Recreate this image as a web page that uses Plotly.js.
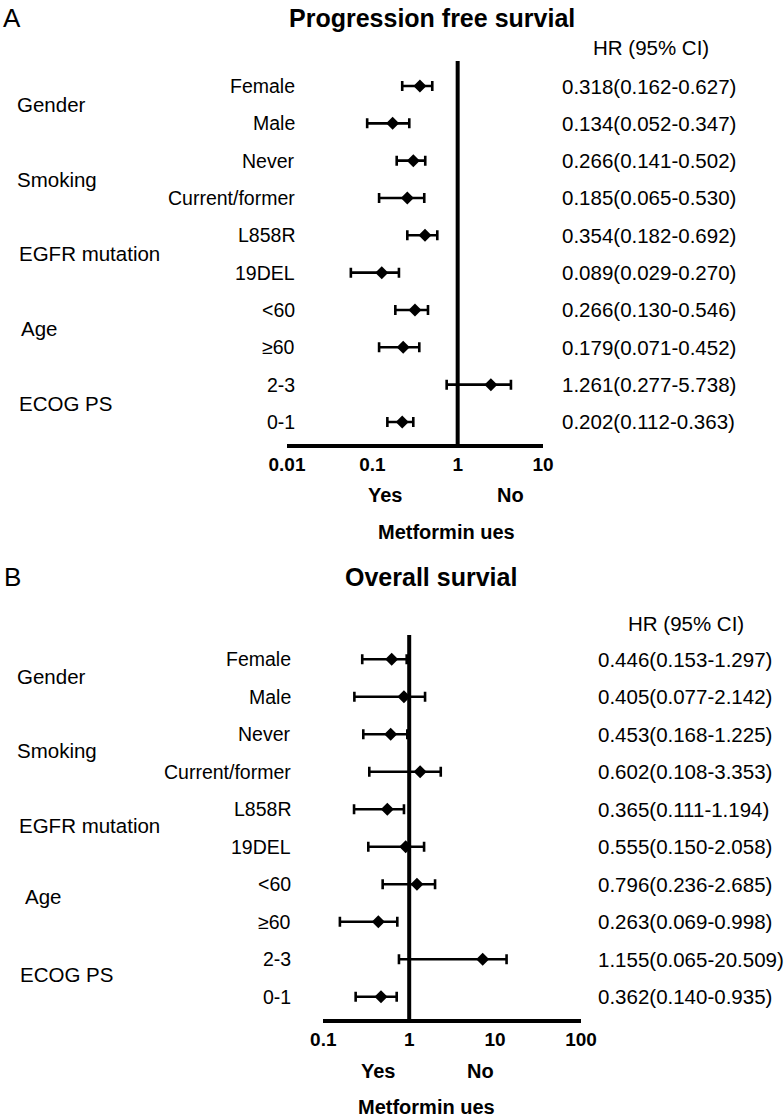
<!DOCTYPE html>
<html><head><meta charset="utf-8">
<script src="https://cdn.plot.ly/plotly-3.0.1.min.js"></script>
<style>html,body{margin:0;padding:0;background:#fff}</style>
</head><body><div id="chart" style="width:784px;height:1120px"></div>
<script>
// ---------- data ----------
const subgroups = ["Female","Male","Never","Current/former","L858R","19DEL","<60","≥60","2-3","0-1"];
const groups = ["Gender","Smoking","EGFR mutation","Age","ECOG PS"];

// Progression free survival (positions as drawn)
const pfsHR   = [0.361,0.173,0.302,0.257,0.414,0.129,0.316,0.230,2.45,0.224];
const pfsLow  = [0.224,0.087,0.193,0.120,0.257,0.056,0.186,0.120,0.743,0.150];
const pfsHigh = [0.504,0.271,0.417,0.406,0.577,0.205,0.449,0.355,4.21,0.302];
const pfsText = ["0.318(0.162-0.627)","0.134(0.052-0.347)","0.266(0.141-0.502)","0.185(0.065-0.530)",
  "0.354(0.182-0.692)","0.089(0.029-0.270)","0.266(0.130-0.546)","0.179(0.071-0.452)",
  "1.261(0.277-5.738)","0.202(0.112-0.363)"];

// Overall survival (positions as drawn)
const osHR   = [0.625,0.869,0.609,1.34,0.556,0.910,1.23,0.437,7.17,0.470];
const osLow  = [0.284,0.230,0.292,0.343,0.228,0.334,0.491,0.156,0.760,0.238];
const osHigh = [0.935,1.53,0.951,2.33,0.869,1.49,2.00,0.727,13.6,0.715];
const osText = ["0.446(0.153-1.297)","0.405(0.077-2.142)","0.453(0.168-1.225)","0.602(0.108-3.353)",
  "0.365(0.111-1.194)","0.555(0.150-2.058)","0.796(0.236-2.685)","0.263(0.069-0.998)",
  "1.155(0.065-20.509)","0.362(0.140-0.935)"];

const pfsTicks = [0.01,0.1,1,10];
const osTicks = [0.1,1,10,100];

// ---------- layout helpers ----------
const W = 784, H = 1120;
const FONT = "Liberation Sans, Arial, Helvetica, sans-serif";
const esc = s => s.replace(/</g,"&lt;").replace(/>/g,"&gt;");
const px = x => x / W;
const py = y => 1 - y / H;
const rows = subgroups.map((_, i) => i);

function forestTrace(hr, lo, hi, xa, ya) {
  return {
    type: "scatter", mode: "markers", x: hr, y: rows, xaxis: xa, yaxis: ya,
    marker: {symbol: "diamond", size: 10, color: "#000"},
    error_x: {type: "data", symmetric: false,
      array: hi.map((v, i) => v - hr[i]),
      arrayminus: lo.map((v, i) => hr[i] - v),
      thickness: 2.6, width: 5, color: "#000"},
    hoverinfo: "skip", showlegend: false
  };
}

const P = {
  A: {labelRight: 297, groupX: [15,15,17,19,17], groupY: [0.5,2.5,4.5,6.5,8.5],
      hrX: 560, hdr: [651, 48], title: [432, 18], letter: [12, 18], yes: [385, 495], no: [510, 495], met: [446, 532]},
  B: {labelRight: 293, groupX: [15,15,17,23,18], groupY: [0.46,2.42,4.42,6.33,8.42],
      hrX: 596, hdr: [686, 623], title: [431, 577], letter: [12, 577], yes: [378, 1071], no: [481, 1071], met: [427, 1107]}
};

const ann = [];
function addPanel(cfg, ya, titleText, letter, texts) {
  const yref = ya;
  subgroups.forEach((s, i) => ann.push({xref: "paper", yref, x: px(cfg.labelRight), y: i, xanchor: "right", yanchor: "middle",
    text: esc(s), showarrow: false, font: {family: FONT, size: 19.5, color: "#000"}}));
  groups.forEach((g, k) => ann.push({xref: "paper", yref, x: px(cfg.groupX[k]), y: cfg.groupY[k], xanchor: "left", yanchor: "middle",
    text: esc(g), showarrow: false, font: {family: FONT, size: 20.5, color: "#000"}}));
  texts.forEach((t, i) => ann.push({xref: "paper", yref, x: px(cfg.hrX), y: i, xanchor: "left", yanchor: "middle",
    text: t, showarrow: false, font: {family: FONT, size: 20.5, color: "#000"}}));
  ann.push({xref: "paper", yref: "paper", x: px(cfg.hdr[0]), y: py(cfg.hdr[1]), xanchor: "center", yanchor: "middle",
    text: "HR (95% CI)", showarrow: false, font: {family: FONT, size: 20.5, color: "#000"}});
  ann.push({xref: "paper", yref: "paper", x: px(cfg.title[0]), y: py(cfg.title[1]), xanchor: "center", yanchor: "middle",
    text: "<b>" + titleText + "</b>", showarrow: false, font: {family: FONT, size: 25, color: "#000"}});
  ann.push({xref: "paper", yref: "paper", x: px(cfg.letter[0]), y: py(cfg.letter[1]), xanchor: "center", yanchor: "middle",
    text: letter, showarrow: false, font: {family: FONT, size: 26, color: "#000"}});
  ann.push({xref: "paper", yref: "paper", x: px(cfg.yes[0]), y: py(cfg.yes[1]), xanchor: "center", yanchor: "middle",
    text: "<b>Yes</b>", showarrow: false, font: {family: FONT, size: 20, color: "#000"}});
  ann.push({xref: "paper", yref: "paper", x: px(cfg.no[0]), y: py(cfg.no[1]), xanchor: "center", yanchor: "middle",
    text: "<b>No</b>", showarrow: false, font: {family: FONT, size: 20, color: "#000"}});
  ann.push({xref: "paper", yref: "paper", x: px(cfg.met[0]), y: py(cfg.met[1]), xanchor: "center", yanchor: "middle",
    text: "<b>Metformin ues</b>", showarrow: false, font: {family: FONT, size: 20, color: "#000"}});
}
addPanel(P.A, "y", "Progression free survial", "A", pfsText);
addPanel(P.B, "y2", "Overall survial", "B", osText);

function xAxis(range, dom, anchor, ticks) {
  return {type: "log", range, domain: dom, anchor, showline: true, linewidth: 4, linecolor: "#000",
    showgrid: false, zeroline: false, ticks: "", tickvals: ticks, ticktext: ticks.map(String),
    tickfont: {family: FONT, size: 19, color: "#000", weight: "bold"}, fixedrange: true};
}
function yAxis(range, dom) {
  return {range, domain: dom, visible: false, showgrid: false, zeroline: false, fixedrange: true};
}

const layout = {
  width: W, height: H, margin: {l: 0, r: 0, t: 0, b: 0},
  paper_bgcolor: "#fff", plot_bgcolor: "rgba(0,0,0,0)",
  xaxis: xAxis([-2, 1], [287/W, 543/W], "y", pfsTicks),
  yaxis: yAxis([(444-86)/37.33, (61-86)/37.33], [1-444/H, 1-61/H]),
  xaxis2: xAxis([-1, 2], [323.3/W, 581/W], "y2", osTicks),
  yaxis2: yAxis([(1019-659.3)/37.49, (635-659.3)/37.49], [1-1019/H, 1-635/H]),
  shapes: [
    {type: "line", xref: "x", yref: "y domain", x0: 1, x1: 1, y0: 0, y1: 1, line: {color: "#000", width: 4}},
    {type: "line", xref: "x2", yref: "y2 domain", x0: 1, x1: 1, y0: 0, y1: 1, line: {color: "#000", width: 4}}
  ],
  annotations: ann
};

Plotly.newPlot("chart", [
  forestTrace(pfsHR, pfsLow, pfsHigh, "x", "y"),
  forestTrace(osHR, osLow, osHigh, "x2", "y2")
], layout, {staticPlot: true, displayModeBar: false});
</script></body></html>
